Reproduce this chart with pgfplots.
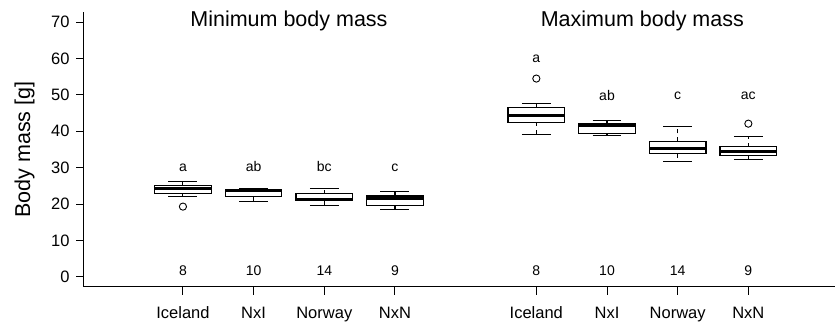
\documentclass[border=0pt]{standalone}
\usepackage{fontspec}
\setmainfont{Liberation Sans}
\usepackage{pgfplots}
\pgfplotsset{compat=1.18}

\pgfplotsset{
  boxs/.style={draw=black, fill=white, line width=1.2pt, mark=none},
  med/.style={black, line width=3pt, mark=none},
  whisk/.style={black, line width=1.1pt, dash pattern=on 4pt off 4pt, mark=none},
  staple/.style={black, line width=1.1pt, mark=none},
  outl/.style={only marks, mark=o, mark size=3.6pt, mark options={solid, black, line width=0.9pt}},
}
\tikzset{
  ann/.style={anchor=base, inner sep=0pt, font=\fontsize{14}{16}\selectfont},
  ttl/.style={anchor=base, inner sep=0pt, font=\fontsize{21.5}{24}\selectfont},
}

\begin{document}
\begin{tikzpicture}
\useasboundingbox (-84pt,-36pt) rectangle (751pt,287pt);
\begin{axis}[
  at={(0,0)}, anchor=south west,
  scale only axis,
  width=751pt, height=275pt,
  xmin=-0.4, xmax=10.226,
  ymin=-2.8, ymax=72.8,
  unbounded coords=jump,
  axis x line=bottom, axis y line=left,
  x axis line style={-, line width=1pt},
  y axis line style={-, line width=1pt},
  tick align=outside,
  major tick length=8pt,
  tick style={black, line width=1pt},
  xtick={1,2,3,4,6,7,8,9},
  xticklabels={Iceland,NxI,Norway,NxN,Iceland,NxI,Norway,NxN},
  ytick={0,10,20,30,40,50,60,70},
  /pgf/number format/assume math mode=true,
  tick label style={font=\fontsize{16.5}{18}\selectfont},
  xticklabel style={anchor=base, yshift=-23.5pt},
  yticklabel style={xshift=-3pt},
  ylabel={Body mass [g]},
  ylabel style={at={(axis description cs:-0.0719,0.5)}, anchor=base, font=\fontsize{21.5}{24}\selectfont},
  clip=false,
]
% ---- boxes (lower quartile to upper quartile), width 0.8
\addplot[boxs] coordinates {(0.6,23.0) (1.4,23.0) (1.4,25.0) (0.6,25.0)} -- cycle;
\addplot[boxs] coordinates {(1.6,22.0) (2.4,22.0) (2.4,24.1) (1.6,24.1)} -- cycle;
\addplot[boxs] coordinates {(2.6,20.9) (3.4,20.9) (3.4,22.8) (2.6,22.8)} -- cycle;
\addplot[boxs] coordinates {(3.6,19.6) (4.4,19.6) (4.4,22.2) (3.6,22.2)} -- cycle;
\addplot[boxs] coordinates {(5.6,42.5) (6.4,42.5) (6.4,46.5) (5.6,46.5)} -- cycle;
\addplot[boxs] coordinates {(6.6,39.3) (7.4,39.3) (7.4,42.1) (6.6,42.1)} -- cycle;
\addplot[boxs] coordinates {(7.6,33.8) (8.4,33.8) (8.4,37.2) (7.6,37.2)} -- cycle;
\addplot[boxs] coordinates {(8.6,33.3) (9.4,33.3) (9.4,35.8) (8.6,35.8)} -- cycle;
% ---- medians
\addplot[med] coordinates {
  (0.6,24.3) (1.4,24.3) (1,nan)
  (1.6,23.7) (2.4,23.7) (2,nan)
  (2.6,21.3) (3.4,21.3) (3,nan)
  (3.6,21.4) (4.4,21.4) (4,nan)
  (5.6,44.4) (6.4,44.4) (6,nan)
  (6.6,41.6) (7.4,41.6) (7,nan)
  (7.6,35.2) (8.4,35.2) (8,nan)
  (8.6,34.4) (9.4,34.4)};
% ---- whiskers (quartile to whisker end), dashed
\addplot[whisk] coordinates {
  (1,25.0) (1,26.1) (1,nan) (1,23.0) (1,22.0) (1,nan)
  (2,24.1) (2,24.3) (2,nan) (2,22.0) (2,20.6) (2,nan)
  (3,22.8) (3,24.2) (3,nan) (3,20.9) (3,19.5) (3,nan)
  (4,22.2) (4,23.4) (4,nan) (4,19.6) (4,18.4) (4,nan)
  (6,46.5) (6,47.6) (6,nan) (6,42.5) (6,39.2) (6,nan)
  (7,42.1) (7,42.9) (7,nan) (7,39.3) (7,38.9) (7,nan)
  (8,37.2) (8,41.2) (8,nan) (8,33.8) (8,31.8) (8,nan)
  (9,35.8) (9,38.5) (9,nan) (9,33.3) (9,32.2)};
% ---- staples
\addplot[staple] coordinates {
  (0.795,26.1) (1.205,26.1) (1,nan) (0.795,22.0) (1.205,22.0) (1,nan)
  (1.795,24.3) (2.205,24.3) (2,nan) (1.795,20.6) (2.205,20.6) (2,nan)
  (2.795,24.2) (3.205,24.2) (3,nan) (2.795,19.5) (3.205,19.5) (3,nan)
  (3.795,23.4) (4.205,23.4) (4,nan) (3.795,18.4) (4.205,18.4) (4,nan)
  (5.795,47.6) (6.205,47.6) (6,nan) (5.795,39.2) (6.205,39.2) (6,nan)
  (6.795,42.9) (7.205,42.9) (7,nan) (6.795,38.9) (7.205,38.9) (7,nan)
  (7.795,41.2) (8.205,41.2) (8,nan) (7.795,31.8) (8.205,31.8) (8,nan)
  (8.795,38.5) (9.205,38.5) (9,nan) (8.795,32.2) (9.205,32.2)};
% ---- outliers
\addplot[outl] coordinates {(1,19.3) (6,54.5) (9,42.1)};

% ---- significance letters and sample sizes
\node[ann] at (axis cs:1,28.9) {a};
\node[ann] at (axis cs:2,28.9) {ab};
\node[ann] at (axis cs:3,28.9) {bc};
\node[ann] at (axis cs:4,28.9) {c};
\node[ann] at (axis cs:6,58.9) {a};
\node[ann] at (axis cs:7,48.6) {ab};
\node[ann] at (axis cs:8,48.7) {c};
\node[ann] at (axis cs:9,48.7) {ac};
\node[ann] at (axis cs:1,0.35) {8};
\node[ann] at (axis cs:2,0.35) {10};
\node[ann] at (axis cs:3,0.35) {14};
\node[ann] at (axis cs:4,0.35) {9};
\node[ann] at (axis cs:6,0.35) {8};
\node[ann] at (axis cs:7,0.35) {10};
\node[ann] at (axis cs:8,0.35) {14};
\node[ann] at (axis cs:9,0.35) {9};
\node[ttl] at (axis cs:2.5,68.8) {Minimum body mass};
\node[ttl] at (axis cs:7.5,68.8) {Maximum body mass};
\end{axis}
\end{tikzpicture}
\end{document}
